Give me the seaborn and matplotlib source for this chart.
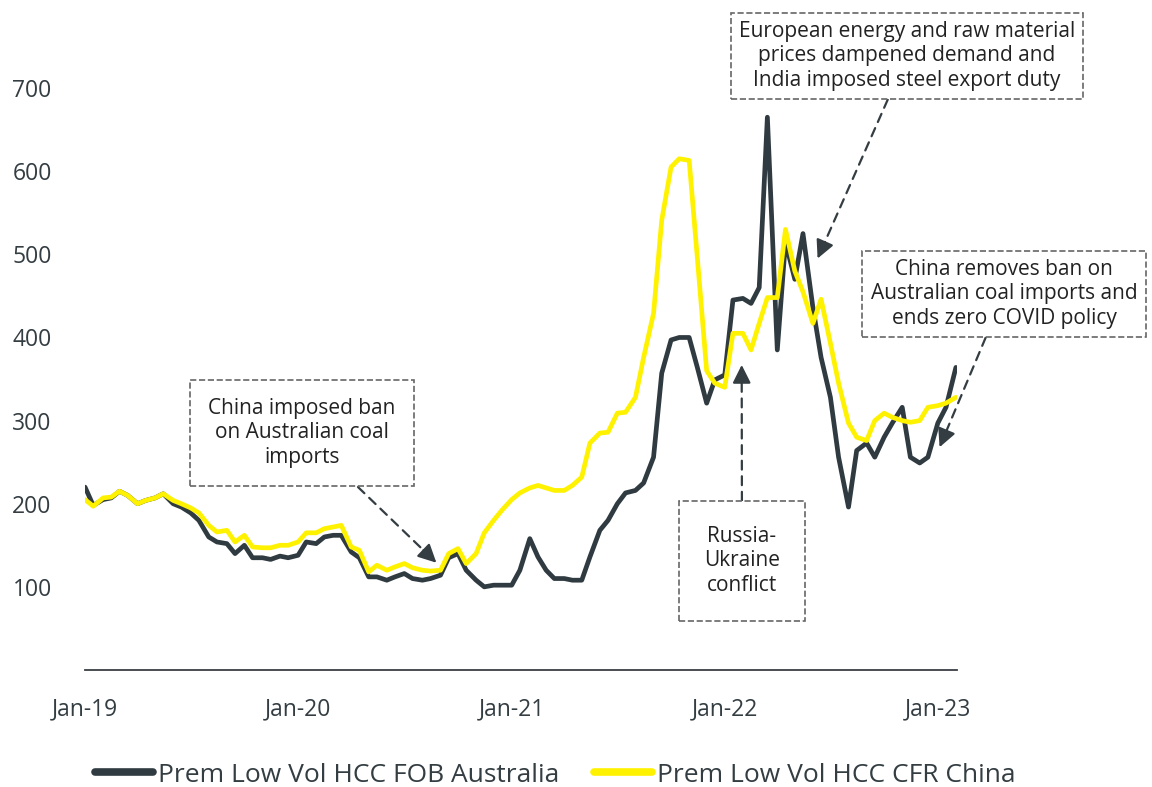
import pandas as pd
import numpy as np
import matplotlib.pyplot as plt
import matplotlib.dates as mdates
import seaborn as sns

# semi-monthly price readings, US$/t
dates = pd.date_range('2019-01-01', periods=99, freq='SMS')

fob_australia = [220, 198, 205, 207, 215, 210, 200, 204, 207, 212,
                 200, 196, 189, 180, 160, 154, 152, 140, 150, 135,
                 135, 133, 137, 135, 138, 154, 152, 160, 162, 162,
                 142, 135, 112, 112, 108, 112, 116, 110, 108, 110,
                 114, 135, 140, 120, 108, 100, 102, 102, 102, 120,
                 158, 136, 120, 110, 110, 108, 108, 136, 168, 180,
                 200, 213, 216, 225, 256, 357, 397, 400, 400, 364,
                 321, 349, 355, 445, 447, 441, 460, 665, 385, 515,
                 470, 525, 436, 376, 328, 256, 196, 264, 273, 256,
                 280, 297, 316, 256, 249, 256, 297, 316, 364]

cfr_china = [205, 197, 207, 208, 215, 210, 200, 204, 207, 212,
             204, 200, 195, 189, 174, 166, 168, 154, 162, 148,
             147, 147, 150, 150, 154, 165, 165, 170, 172, 174,
             148, 144, 118, 126, 120, 124, 128, 123, 120, 119,
             120, 140, 146, 128, 140, 165, 180, 192, 205, 213,
             219, 222, 219, 216, 216, 222, 232, 273, 285, 286,
             309, 310, 328, 376, 429, 541, 605, 615, 613, 496,
             360, 345, 340, 405, 405, 385, 417, 448, 448, 530,
             480, 455, 417, 446, 393, 345, 297, 280, 276, 300,
             309, 304, 300, 298, 300, 316, 318, 321, 328]

series_names = ['Prem Low Vol HCC FOB Australia', 'Prem Low Vol HCC CFR China']
colors = ['#2f3b41', '#fff200']
y_ticks = [100, 200, 300, 400, 500, 600, 700]
x_ticks = pd.to_datetime(['2019-01-01', '2020-01-01', '2021-01-01', '2022-01-01', '2023-01-01'])
x_labels = ['Jan-19', 'Jan-20', 'Jan-21', 'Jan-22', 'Jan-23']

df = pd.concat([
    pd.DataFrame({'date': dates, 'price': fob_australia, 'series': series_names[0]}),
    pd.DataFrame({'date': dates, 'price': cfr_china, 'series': series_names[1]}),
])

sns.set_style('white')
plt.rcParams['font.family'] = ['Open Sans', 'DejaVu Sans']
txt = '#333d42'

fig = plt.figure(figsize=(11.52, 7.87), dpi=100)
ax = fig.add_axes([0.0738, 0.1487, 0.757, 0.8513])

sns.lineplot(data=df, x='date', y='price', hue='series', hue_order=series_names,
             palette=colors, linewidth=3.4, ax=ax)

ax.set_xlim(pd.Timestamp('2019-01-01'), pd.Timestamp('2023-02-03'))
ax.set_ylim(0, 806)
ax.set_yticks(y_ticks)
ax.set_xticks(x_ticks)
ax.set_xticklabels(x_labels)
ax.set_xlabel('')
ax.set_ylabel('')
ax.tick_params(axis='both', length=0, labelsize=16.5, colors=txt)
ax.tick_params(axis='y', pad=24)
ax.tick_params(axis='x', pad=20)
for s in ['top', 'right', 'left']:
    ax.spines[s].set_visible(False)
ax.spines['bottom'].set_color('#3a3f44')
ax.spines['bottom'].set_linewidth(1.3)

sns.move_legend(ax, 'center', bbox_to_anchor=(0.539, -0.157), ncol=2, title=None,
                frameon=False, fontsize=19, handlelength=2.2, handletextpad=0.2,
                columnspacing=1.3, labelcolor=txt)
for h in ax.get_legend().get_lines():
    h.set_linewidth(5.5)

def note(text, tip, center, pad):
    xy = (mdates.date2num(pd.Timestamp(tip[0])), tip[1])
    ctr = np.array([center[0], 787 - center[1]], dtype=float)
    # dashed leader from the box to the tip
    ax.annotate(text, xy=xy, xytext=ctr, textcoords='figure pixels',
                ha='center', va='center', fontsize=15, color='#222', linespacing=1.2,
                bbox=dict(boxstyle=f'square,pad={pad}', fc='white', ec='#666', ls='--', lw=1.2),
                arrowprops=dict(arrowstyle='-', ls=(0, (4, 3)), color='#333d42', lw=1.6,
                                shrinkA=0, shrinkB=8))
    # solid arrow head
    tip_px = ax.transData.transform(xy)
    d = tip_px - ctr
    d = d / np.hypot(*d)
    ax.annotate('', xy=xy, xytext=tip_px - 18 * d, textcoords='figure pixels',
                arrowprops=dict(arrowstyle='-|>,head_length=1.1,head_width=0.55',
                                color='#333d42', lw=1.6, shrinkA=0, shrinkB=0))

note('China imposed ban\non Australian coal\nimports', ('2020-08-25', 129), (302, 433), 0.9)
note('Russia-\nUkraine\nconflict', ('2022-01-30', 367), (742, 561), 1.2)
note('European energy and raw material\nprices dampened demand and\nIndia imposed steel export duty',
     ('2022-06-09', 495), (907, 56), 0.4)
note('China removes ban on\nAustralian coal imports and\nends zero COVID policy',
     ('2023-01-04', 268), (1004, 294), 0.4)

fig.savefig('out.png', dpi=100)
